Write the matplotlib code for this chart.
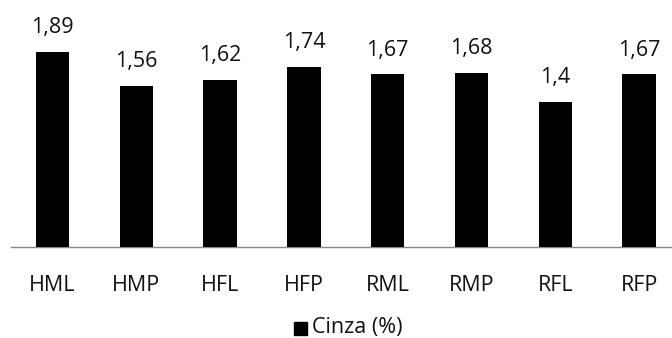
import matplotlib
matplotlib.use("Agg")
import matplotlib.pyplot as plt
from matplotlib.patches import Rectangle

categories = ["HML", "HMP", "HFL", "HFP", "RML", "RMP", "RFL", "RFP"]
cinza = [1.89, 1.56, 1.62, 1.74, 1.67, 1.68, 1.4, 1.67]
value_labels = ["1,89", "1,56", "1,62", "1,74", "1,67", "1,68", "1,4", "1,67"]
legend_label = "Cinza (%)"

plt.rcParams["font.family"] = ["Open Sans", "DejaVu Sans"]
FS = 15.5
TXT = "#111111"

W, H = 672, 338
fig = plt.figure(figsize=(W / 100, H / 100), dpi=100)

left_px, cat_w = 10.6, 83.8
base_px = 247
ax = fig.add_axes([left_px / W, (H - base_px) / H, 8 * cat_w / W, base_px / H])
ax.set_xlim(-0.5, len(categories) - 0.5)
ax.set_ylim(0, 2.39)

x = range(len(categories))
ax.bar(x, cinza, width=0.4, color="black", zorder=3)

for xi, v, lab in zip(x, cinza, value_labels):
    ax.annotate(lab, (xi, v), xytext=(0, 10), textcoords="offset points",
                ha="center", va="bottom", fontsize=FS, color=TXT,
                annotation_clip=False)

for s in ["top", "right", "left"]:
    ax.spines[s].set_visible(False)
ax.spines["bottom"].set_color("#888888")
ax.spines["bottom"].set_linewidth(1.0)
ax.set_yticks([])
ax.set_xticks(list(x))
ax.set_xticklabels(categories, fontsize=FS, color=TXT)
ax.tick_params(axis="x", length=0, pad=20.5)

# legend entry below the axis
fig.patches.append(Rectangle((294 / W, (H - 335) / H), 13 / W, 13 / H,
                             transform=fig.transFigure, color="black"))
fig.text(312 / W, (H - 327) / H, legend_label, fontsize=FS, color=TXT,
         ha="left", va="center")

fig.savefig("out.png", dpi=100)
